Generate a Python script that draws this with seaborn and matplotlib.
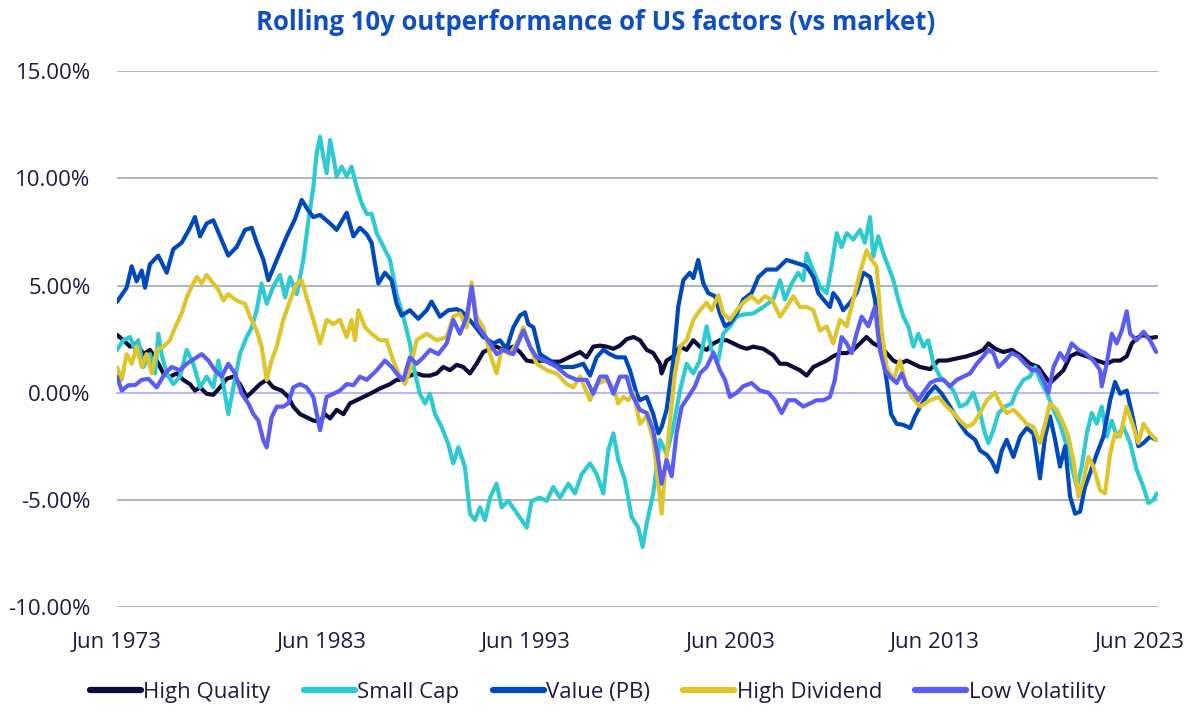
import matplotlib
matplotlib.use('Agg')
import matplotlib.pyplot as plt
import pandas as pd
import seaborn as sns
from matplotlib.ticker import StrMethodFormatter

# decimal years (Jun 1973 = 1973.5), rolling 10y excess return in %
hq_years = [1973.5, 1973.81, 1974.14, 1974.46, 1974.79, 1975.11, 1975.44, 1975.77, 1976.09, 1976.42,
            1976.74, 1977.07, 1977.31, 1977.56, 1977.88, 1978.21, 1978.54, 1978.86, 1979.19, 1979.51,
            1979.84, 1980.17, 1980.49, 1980.82, 1981.14, 1981.55, 1981.88, 1982.12, 1982.45, 1982.77,
            1983.1, 1983.43, 1983.67, 1983.92, 1984.24, 1984.57, 1984.89, 1985.22, 1985.55, 1985.87,
            1986.36, 1986.85, 1987.17, 1987.5, 1987.82, 1988.15, 1988.48, 1988.8, 1989.13, 1989.45,
            1989.78, 1990.11, 1990.43, 1990.76, 1991.08, 1991.41, 1991.74, 1992.06, 1992.39, 1992.88,
            1993.2, 1993.53, 1993.86, 1994.26, 1994.67, 1995.16, 1995.49, 1995.81, 1996.14, 1996.46,
            1996.79, 1997.12, 1997.44, 1997.77, 1998.09, 1998.42, 1998.75, 1999.07, 1999.4, 1999.72,
            2000.05, 2000.13, 2000.37, 2000.7, 2001.03, 2001.35, 2001.68, 2002.0, 2002.33, 2002.66,
            2002.98, 2003.31, 2003.63, 2003.96, 2004.29, 2004.61, 2005.1, 2005.59, 2005.92, 2006.24,
            2006.57, 2006.89, 2007.22, 2007.55, 2007.87, 2008.2, 2008.52, 2008.85, 2009.18, 2009.5,
            2009.83, 2010.15, 2010.48, 2010.8, 2011.13, 2011.46, 2011.78, 2012.11, 2012.44, 2012.77,
            2013.26, 2013.66, 2014.07, 2014.56, 2015.05, 2015.54, 2015.86, 2016.11, 2016.43, 2016.84,
            2017.25, 2017.66, 2018.14, 2018.55, 2018.88, 2019.12, 2019.45, 2019.78, 2020.1, 2020.43,
            2020.92, 2021.41, 2021.89, 2022.22, 2022.55, 2022.87, 2023.12, 2023.36, 2023.69, 2024.01,
            2024.31]
hq_vals = [2.7, 2.45, 2.15, 2.3, 1.8, 2.0, 1.5, 0.9, 0.75, 0.9,
           0.6, 0.4, 0.1, 0.25, -0.05, -0.1, 0.25, 0.65, 0.75, 0.4,
           -0.2, 0.1, 0.4, 0.6, 0.25, 0.1, -0.2, -0.65, -1.0, -1.15,
           -1.3, -1.35, -1.0, -1.2, -0.8, -1.0, -0.5, -0.35, -0.2, -0.05,
           0.2, 0.4, 0.6, 0.6, 0.8, 0.9, 0.8, 0.8, 0.9, 1.2,
           1.05, 1.3, 1.2, 0.9, 1.35, 1.9, 2.05, 2.15, 2.0, 2.15,
           1.9, 1.5, 1.45, 1.5, 1.45, 1.45, 1.6, 1.75, 1.9, 1.65,
           2.15, 2.2, 2.15, 2.05, 2.2, 2.5, 2.6, 2.45, 2.0, 1.85,
           1.35, 0.9, 1.5, 1.7, 2.15, 2.0, 2.45, 2.15, 2.0, 2.3,
           2.45, 2.45, 2.3, 2.15, 2.05, 2.15, 2.05, 1.75, 1.35, 1.35,
           1.2, 1.05, 0.8, 1.2, 1.35, 1.5, 1.7, 1.85, 1.85, 2.0,
           2.3, 2.6, 2.3, 2.15, 1.85, 1.5, 1.35, 1.5, 1.35, 1.2,
           1.1, 1.5, 1.5, 1.6, 1.7, 1.85, 2.0, 2.3, 2.05, 1.9,
           2.0, 1.75, 1.35, 1.2, 0.75, 0.45, 0.75, 1.05, 1.7, 1.85,
           1.7, 1.5, 1.35, 1.5, 1.5, 1.7, 2.3, 2.55, 2.7, 2.55,
           2.6]

sc_years = [1973.5, 1973.81, 1974.14, 1974.38, 1974.54, 1974.79, 1975.11, 1975.36, 1975.52, 1975.68,
            1975.93, 1976.25, 1976.58, 1976.91, 1977.23, 1977.56, 1977.88, 1978.21, 1978.46, 1978.7,
            1978.94, 1979.19, 1979.51, 1979.84, 1980.09, 1980.33, 1980.57, 1980.82, 1981.14, 1981.47,
            1981.72, 1981.96, 1982.29, 1982.61, 1982.86, 1983.1, 1983.26, 1983.43, 1983.59, 1983.75,
            1983.92, 1984.08, 1984.24, 1984.49, 1984.73, 1984.97, 1985.22, 1985.46, 1985.71, 1985.95,
            1986.2, 1986.85, 1987.17, 1987.5, 1987.82, 1988.07, 1988.31, 1988.56, 1988.8, 1989.05,
            1989.37, 1989.7, 1989.94, 1990.19, 1990.51, 1990.76, 1991.0, 1991.25, 1991.49, 1991.74,
            1992.06, 1992.31, 1992.63, 1992.96, 1993.29, 1993.53, 1993.77, 1994.18, 1994.51, 1994.83,
            1995.16, 1995.57, 1995.89, 1996.22, 1996.63, 1996.95, 1997.28, 1997.52, 1997.77, 1998.01,
            1998.34, 1998.66, 1998.99, 1999.2, 1999.4, 1999.72, 2000.05, 2000.37, 2000.7, 2001.03,
            2001.35, 2001.68, 2002.0, 2002.33, 2002.57, 2002.9, 2003.14, 2003.47, 2003.8, 2004.12,
            2004.61, 2005.1, 2005.59, 2005.92, 2006.16, 2006.49, 2006.81, 2007.06, 2007.22, 2007.46,
            2007.87, 2008.2, 2008.44, 2008.69, 2008.93, 2009.18, 2009.5, 2009.83, 2010.07, 2010.32,
            2010.48, 2010.72, 2010.97, 2011.21, 2011.46, 2011.7, 2011.95, 2012.19, 2012.44, 2012.68,
            2012.93, 2013.17, 2013.42, 2013.74, 2014.07, 2014.4, 2014.72, 2015.05, 2015.37, 2015.7,
            2015.94, 2016.11, 2016.35, 2016.6, 2016.92, 2017.25, 2017.49, 2017.82, 2018.14, 2018.39,
            2018.63, 2018.96, 2019.29, 2019.61, 2019.94, 2020.18, 2020.43, 2020.67, 2020.92, 2021.16,
            2021.41, 2021.65, 2021.89, 2022.14, 2022.38, 2022.71, 2023.04, 2023.36, 2023.69, 2023.93,
            2024.18, 2024.34]
sc_vals = [2.0, 2.45, 2.6, 2.0, 2.45, 1.2, 1.8, 0.9, 2.75, 1.8,
           0.9, 0.4, 0.75, 2.0, 1.35, 0.25, 0.75, 0.25, 1.5, 0.4,
           -1.0, 0.25, 1.8, 2.6, 3.05, 3.85, 5.1, 4.15, 4.95, 5.5,
           4.45, 5.4, 4.6, 6.2, 8.05, 9.6, 11.15, 11.95, 11.0, 10.25,
           11.8, 11.0, 10.1, 10.55, 10.1, 10.55, 9.6, 8.85, 8.35, 8.35,
           7.45, 6.2, 4.6, 3.55, 2.3, 0.9, -0.05, -0.5, -0.05, -1.0,
           -1.6, -2.4, -3.3, -2.55, -3.45, -5.65, -5.95, -5.35, -5.95, -4.9,
           -4.25, -5.35, -5.05, -5.5, -5.95, -6.3, -5.05, -4.9, -5.05, -4.4,
           -4.9, -4.25, -4.7, -3.8, -3.3, -3.8, -4.7, -2.7, -1.9, -3.15,
           -4.1, -5.8, -6.3, -7.2, -6.1, -4.7, -2.2, -2.85, -1.6, 0.1,
           1.35, 0.9, 1.5, 3.1, 2.0, 1.5, 2.75, 3.1, 3.55, 3.65,
           3.7, 4.0, 4.35, 5.25, 4.35, 5.1, 5.6, 5.25, 6.5, 5.9,
           4.95, 4.65, 5.9, 7.45, 6.8, 7.45, 7.15, 7.6, 7.0, 8.2,
           6.35, 7.3, 6.5, 5.9, 5.25, 4.35, 3.55, 3.1, 2.15, 2.75,
           2.15, 2.45, 1.35, 0.75, 0.45, 0.1, -0.65, -0.5, 0.0, -0.95,
           -1.9, -2.35, -1.75, -0.95, -0.65, -0.5, 0.1, 0.6, 0.75, 1.2,
           0.6, 0.0, -0.8, -1.45, -2.5, -3.45, -4.4, -3.45, -1.9, -0.95,
           -1.45, -0.65, -2.05, -1.3, -2.05, -1.6, -2.35, -3.6, -4.4, -5.15,
           -5.0, -4.7]

val_years = [1973.5, 1973.97, 1974.22, 1974.46, 1974.71, 1974.87, 1975.11, 1975.52, 1975.93, 1976.25,
             1976.66, 1977.07, 1977.31, 1977.56, 1977.88, 1978.21, 1978.54, 1978.94, 1979.35, 1979.76,
             1980.09, 1980.33, 1980.66, 1980.9, 1981.31, 1981.8, 1982.2, 1982.53, 1982.86, 1983.1,
             1983.43, 1983.92, 1984.24, 1984.73, 1985.06, 1985.38, 1985.71, 1985.95, 1986.12, 1986.28,
             1986.6, 1986.93, 1987.17, 1987.42, 1987.82, 1988.23, 1988.64, 1988.88, 1989.29, 1989.7,
             1990.11, 1990.35, 1990.92, 1991.41, 1991.9, 1992.22, 1992.55, 1992.88, 1993.2, 1993.45,
             1993.61, 1993.86, 1994.18, 1994.51, 1995.16, 1995.81, 1996.3, 1996.63, 1996.95, 1997.28,
             1997.6, 1997.93, 1998.34, 1998.58, 1998.91, 1999.07, 1999.4, 1999.72, 1999.97, 2000.13,
             2000.37, 2000.7, 2000.94, 2001.19, 2001.51, 2001.68, 2001.92, 2002.17, 2002.41, 2002.74,
             2002.98, 2003.23, 2003.47, 2003.8, 2004.12, 2004.53, 2004.86, 2005.26, 2005.75, 2006.24,
             2006.73, 2007.22, 2007.55, 2007.79, 2008.04, 2008.36, 2008.52, 2008.77, 2009.01, 2009.34,
             2009.66, 2009.99, 2010.32, 2010.56, 2010.8, 2011.13, 2011.35, 2011.62, 2011.95, 2012.28,
             2012.52, 2012.77, 2013.17, 2013.5, 2013.83, 2014.23, 2014.72, 2015.05, 2015.46, 2015.7,
             2016.03, 2016.27, 2016.52, 2016.76, 2017.0, 2017.33, 2017.66, 2017.98, 2018.31, 2018.63,
             2018.88, 2019.12, 2019.37, 2019.61, 2019.86, 2020.1, 2020.35, 2020.59, 2020.83, 2021.08,
             2021.41, 2021.73, 2022.06, 2022.3, 2022.55, 2022.87, 2023.2, 2023.44, 2023.69, 2024.01,
             2024.31]
val_vals = [4.24, 4.9, 5.9, 5.2, 5.7, 4.9, 6.0, 6.4, 5.6, 6.7,
            7.0, 7.7, 8.2, 7.3, 7.9, 8.05, 7.3, 6.4, 6.8, 7.6,
            7.7, 7.0, 6.2, 5.25, 6.2, 7.3, 8.1, 9.0, 8.5, 8.2,
            8.3, 7.9, 7.6, 8.4, 7.3, 7.7, 7.4, 7.0, 6.0, 5.1,
            5.6, 5.25, 4.15, 3.6, 3.85, 3.45, 3.85, 4.25, 3.55, 3.85,
            3.9, 3.8, 3.2, 2.6, 2.3, 2.45, 2.05, 3.05, 3.6, 3.75,
            3.2, 3.05, 1.8, 1.6, 1.2, 1.2, 1.35, 0.8, 1.65, 2.0,
            1.8, 1.65, 1.65, 1.05, -0.05, -0.35, -0.2, -1.0, -1.9, -1.6,
            -0.8, 1.5, 4.0, 5.25, 5.6, 5.35, 6.2, 5.1, 4.65, 4.5,
            3.7, 3.1, 3.25, 3.7, 4.35, 4.65, 5.4, 5.75, 5.75, 6.2,
            6.05, 5.9, 5.4, 4.65, 4.35, 4.0, 4.65, 4.35, 3.85, 4.2,
            4.65, 5.6, 5.4, 4.35, 2.45, 0.6, -1.0, -1.45, -1.5, -1.65,
            -1.1, -0.65, -0.05, 0.3, -0.05, -0.65, -1.45, -1.9, -2.2, -2.7,
            -2.9, -3.2, -3.7, -2.7, -2.2, -3.0, -2.05, -1.65, -1.9, -4.0,
            -2.05, -1.1, -2.2, -3.45, -2.5, -4.85, -5.65, -5.55, -4.4, -3.75,
            -2.85, -2.05, -0.35, 0.5, -0.05, 0.1, -1.3, -2.5, -2.35, -2.05,
            -2.2]

hd_years = [1973.5, 1973.73, 1973.97, 1974.22, 1974.46, 1974.71, 1974.95, 1975.2, 1975.44, 1975.77,
            1976.09, 1976.34, 1976.66, 1976.91, 1977.15, 1977.4, 1977.64, 1977.88, 1978.21, 1978.46,
            1978.7, 1978.94, 1979.35, 1979.76, 1980.0, 1980.33, 1980.57, 1980.82, 1981.06, 1981.31,
            1981.63, 1981.96, 1982.29, 1982.53, 1982.77, 1983.1, 1983.43, 1983.75, 1984.08, 1984.4,
            1984.73, 1984.97, 1985.14, 1985.3, 1985.63, 1985.95, 1986.36, 1986.68, 1987.01, 1987.34,
            1987.58, 1987.82, 1988.15, 1988.64, 1989.13, 1989.62, 1989.94, 1990.27, 1990.6, 1990.84,
            1991.08, 1991.41, 1991.74, 1992.06, 1992.31, 1992.71, 1993.04, 1993.37, 1993.69, 1994.02,
            1994.51, 1995.0, 1995.49, 1995.81, 1996.14, 1996.63, 1996.95, 1997.44, 1997.77, 1998.01,
            1998.26, 1998.5, 1998.75, 1999.07, 1999.4, 1999.72, 1999.97, 2000.13, 2000.29, 2000.54,
            2000.78, 2001.03, 2001.35, 2001.68, 2002.0, 2002.33, 2002.57, 2002.9, 2003.14, 2003.47,
            2003.8, 2004.12, 2004.53, 2004.86, 2005.18, 2005.51, 2005.92, 2006.24, 2006.57, 2006.89,
            2007.22, 2007.55, 2007.87, 2008.2, 2008.52, 2008.85, 2009.18, 2009.5, 2009.83, 2010.15,
            2010.4, 2010.64, 2010.89, 2011.13, 2011.46, 2011.78, 2012.11, 2012.35, 2012.77, 2013.26,
            2013.66, 2014.07, 2014.4, 2014.72, 2015.05, 2015.37, 2015.7, 2016.03, 2016.43, 2016.68,
            2017.0, 2017.33, 2017.66, 2017.98, 2018.31, 2018.63, 2018.88, 2019.12, 2019.45, 2019.78,
            2020.02, 2020.26, 2020.51, 2020.75, 2021.0, 2021.24, 2021.57, 2021.81, 2022.06, 2022.3,
            2022.55, 2022.87, 2023.2, 2023.44, 2023.69, 2024.01, 2024.31]
hd_vals = [1.2, 0.6, 1.8, 1.35, 2.15, 1.2, 1.8, 0.9, 2.0, 2.15,
           2.45, 3.05, 3.7, 4.45, 4.95, 5.4, 5.1, 5.5, 5.1, 4.8,
           4.3, 4.6, 4.3, 4.15, 3.55, 2.9, 2.15, 0.6, 1.5, 2.15,
           3.4, 4.3, 5.1, 5.25, 4.45, 3.4, 2.3, 3.4, 3.2, 3.4,
           2.6, 3.4, 2.45, 3.85, 3.05, 2.75, 2.45, 2.45, 1.5, 0.75,
           0.4, 1.05, 2.45, 2.75, 2.45, 2.6, 3.55, 3.7, 3.05, 5.15,
           3.55, 3.05, 1.8, 0.9, 2.0, 1.8, 2.3, 3.05, 2.15, 1.35,
           1.05, 0.9, 0.4, 0.25, 0.75, -0.35, 0.4, 0.6, 0.25, -0.5,
           -0.2, -0.35, 0.0, -1.45, -1.1, -2.2, -4.25, -5.65, -3.75, -1.3,
           0.9, 2.15, 2.45, 3.4, 3.85, 4.2, 3.85, 4.55, 3.7, 3.4,
           3.85, 4.2, 4.5, 4.2, 4.5, 4.35, 3.55, 4.0, 4.5, 4.0,
           4.0, 3.85, 2.9, 3.1, 2.3, 3.4, 3.1, 4.35, 5.6, 6.65,
           6.2, 5.9, 2.9, 1.2, 0.6, 1.5, 0.3, -0.2, -0.65, -0.35,
           -0.2, -0.65, -0.95, -1.3, -1.6, -1.45, -0.95, -0.35, 0.0, -0.5,
           -0.95, -0.8, -1.1, -1.45, -1.6, -2.35, -1.45, -0.5, -0.8, -1.45,
           -2.05, -3.15, -4.85, -4.1, -3.0, -3.45, -4.55, -4.7, -2.85, -1.9,
           -2.05, -0.65, -1.6, -2.35, -1.45, -1.9, -2.2]

lv_years = [1973.5, 1973.73, 1974.06, 1974.38, 1974.71, 1975.03, 1975.44, 1975.85, 1976.17, 1976.58,
            1976.91, 1977.31, 1977.64, 1977.97, 1978.29, 1978.62, 1978.94, 1979.27, 1979.6, 1979.92,
            1980.17, 1980.41, 1980.66, 1980.82, 1981.06, 1981.31, 1981.63, 1981.88, 1982.12, 1982.45,
            1982.77, 1983.1, 1983.43, 1983.75, 1984.08, 1984.4, 1984.73, 1985.06, 1985.38, 1985.71,
            1986.2, 1986.6, 1986.93, 1987.25, 1987.5, 1987.82, 1988.15, 1988.48, 1988.8, 1989.21,
            1989.62, 1989.94, 1990.27, 1990.6, 1990.84, 1991.08, 1991.41, 1991.74, 1992.06, 1992.39,
            1992.88, 1993.37, 1993.69, 1994.02, 1994.51, 1995.0, 1995.49, 1995.98, 1996.46, 1996.79,
            1997.12, 1997.44, 1997.77, 1998.09, 1998.42, 1998.66, 1999.07, 1999.4, 1999.72, 1999.97,
            2000.13, 2000.37, 2000.62, 2000.86, 2001.11, 2001.43, 2001.76, 2002.0, 2002.33, 2002.66,
            2002.98, 2003.23, 2003.47, 2003.8, 2004.12, 2004.53, 2004.94, 2005.35, 2005.67, 2006.0,
            2006.32, 2006.65, 2007.06, 2007.38, 2007.71, 2008.04, 2008.36, 2008.6, 2008.77, 2008.93,
            2009.18, 2009.42, 2009.66, 2009.91, 2010.24, 2010.56, 2010.8, 2011.05, 2011.29, 2011.62,
            2011.87, 2012.11, 2012.44, 2012.68, 2012.93, 2013.26, 2013.58, 2013.91, 2014.23, 2014.56,
            2014.88, 2015.21, 2015.54, 2015.86, 2016.11, 2016.35, 2016.6, 2016.92, 2017.25, 2017.57,
            2017.9, 2018.23, 2018.55, 2018.8, 2019.04, 2019.29, 2019.61, 2019.86, 2020.18, 2020.51,
            2020.83, 2021.24, 2021.57, 2021.65, 2021.89, 2022.14, 2022.38, 2022.63, 2022.87, 2023.04,
            2023.36, 2023.69, 2024.01, 2024.31]
lv_vals = [0.75, 0.1, 0.35, 0.35, 0.6, 0.65, 0.25, 0.9, 1.2, 1.05,
           1.35, 1.6, 1.8, 1.5, 1.05, 0.75, 1.35, 0.9, -0.05, -0.5,
           -1.0, -1.3, -2.25, -2.55, -1.15, -0.65, -0.65, -0.5, 0.25, 0.4,
           0.25, -0.2, -1.75, -0.2, -0.05, 0.1, 0.4, 0.35, 0.75, 0.6,
           1.05, 1.5, 1.2, 0.8, 0.6, 1.65, 1.35, 1.65, 2.0, 1.8,
           2.3, 3.4, 2.75, 3.55, 4.95, 3.2, 2.75, 2.3, 1.8, 2.0,
           1.8, 2.9, 2.15, 1.65, 1.45, 1.2, 0.8, 0.6, 0.6, -0.05,
           0.75, 0.75, -0.05, 0.75, 0.75, -0.05, -0.8, -0.95, -1.75, -3.15,
           -4.25, -3.15, -3.9, -1.9, -0.65, -0.2, 0.3, 0.9, 1.2, 1.85,
           1.05, 0.6, -0.2, 0.0, 0.3, 0.45, 0.1, 0.0, -0.35, -0.95,
           -0.35, -0.35, -0.65, -0.5, -0.35, -0.35, -0.2, 0.6, 1.7, 2.6,
           2.3, 1.85, 2.75, 3.55, 3.1, 4.0, 2.0, 1.05, 0.75, 0.45,
           0.9, 0.3, 0.0, -0.35, 0.0, 0.45, 0.6, 0.6, 0.3, 0.6,
           0.75, 0.9, 1.35, 1.7, 2.0, 1.85, 1.2, 1.5, 1.85, 1.7,
           1.35, 1.05, 1.05, 0.6, 0.0, 1.2, 1.85, 1.5, 2.3, 2.0,
           1.85, 1.5, 1.05, 0.3, 1.35, 2.75, 2.3, 2.9, 3.8, 2.75,
           2.45, 2.85, 2.45, 1.9]

factors = ['High Quality', 'Small Cap', 'Value (PB)', 'High Dividend', 'Low Volatility']
colors = ['#0c0c3c', '#2ecad2', '#0049bd', '#dfc52c', '#5a5cf4']

tick_years = [1973.5, 1983.5, 1993.5, 2003.5, 2013.5, 2023.5]
tick_labels = ['Jun 1973', 'Jun 1983', 'Jun 1993', 'Jun 2003', 'Jun 2013', 'Jun 2023']
y_ticks = [-10, -5, 0, 5, 10, 15]

frames = []
for name, yrs, vals in zip(factors,
                           [hq_years, sc_years, val_years, hd_years, lv_years],
                           [hq_vals, sc_vals, val_vals, hd_vals, lv_vals]):
    frames.append(pd.DataFrame({'date': yrs, 'outperf': vals, 'factor': name}))
df = pd.concat(frames, ignore_index=True)

sns.set_style('white')
plt.rcParams['font.family'] = ['Open Sans', 'DejaVu Sans']
plt.rcParams['axes.unicode_minus'] = False
text_col = '#1c1c42'

fig, ax = plt.subplots(figsize=(12, 7.14), dpi=100)
fig.subplots_adjust(left=0.0975, right=0.965, top=0.9, bottom=0.15)

sns.lineplot(data=df, x='date', y='outperf', hue='factor', hue_order=factors,
             palette=colors, linewidth=3, estimator=None, errorbar=None,
             ax=ax, zorder=3)

ax.set_xlim(1973.5, 2024.4)
ax.set_ylim(-10, 15)
ax.set_yticks(y_ticks)
ax.yaxis.set_major_formatter(StrMethodFormatter('{x:.2f}%'))
ax.yaxis.grid(True, color='#a9b4c1', linewidth=1.4)
ax.xaxis.grid(False)
ax.set_xlabel('')
ax.set_ylabel('')

for s in ['left', 'right', 'top']:
    ax.spines[s].set_visible(False)
# x axis crosses at zero (lavender line with small ticks)
ax.spines['bottom'].set_position(('data', 0))
ax.spines['bottom'].set_color('#bab8f5')
ax.spines['bottom'].set_linewidth(1.5)
ax.set_xticks(tick_years)
ax.tick_params(axis='x', direction='out', length=5, width=1.2,
               color='#bab8f5', labelbottom=False)
ax.tick_params(axis='y', length=0, pad=19, labelsize=16, labelcolor=text_col)

# date labels sit below the plot
sec = ax.secondary_xaxis('bottom')
sec.set_xticks(tick_years, labels=tick_labels)
sec.spines['bottom'].set_visible(False)
sec.tick_params(length=0, pad=18, labelsize=16, labelcolor=text_col)

sns.move_legend(ax, 'center', bbox_to_anchor=(0.498, 0.03),
                bbox_transform=fig.transFigure, ncol=5, frameon=False,
                title=None, fontsize=16, handlelength=2.3, handletextpad=0.1,
                columnspacing=1.5, labelcolor=text_col)
for h in ax.get_legend().get_lines():
    h.set_linewidth(4.5)

fig.suptitle('Rolling 10y outperformance of US factors (vs market)', x=0.496, y=0.968,
             fontsize=18.5, fontweight='bold', color='#0f4fbf', va='center')

fig.savefig('out.png', dpi=100)
